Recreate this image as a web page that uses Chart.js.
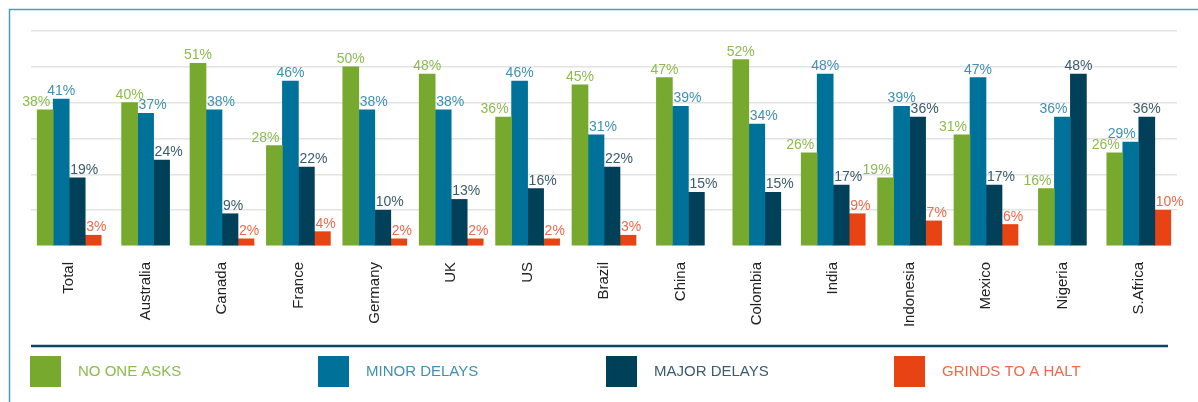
<!DOCTYPE html>
<html>
<head>
<meta charset="utf-8">
<script src="https://cdn.jsdelivr.net/npm/chart.js@4.4.1/dist/chart.umd.min.js"></script>
<style>
html, body { margin: 0; padding: 0; background: #fff; }
#wrap { width: 1198px; height: 402px; }
</style>
</head>
<body>
<div id="wrap"><canvas id="delayChart" width="1198" height="402"></canvas></div>
<script>
// data
const countries = ['Total', 'Australia', 'Canada', 'France', 'Germany', 'UK', 'US', 'Brazil', 'China', 'Colombia', 'India', 'Indonesia', 'Mexico', 'Nigeria', 'S.Africa'];
const noOneAsks    = [38, 40, 51, 28, 50, 48, 36, 45, 47, 52, 26, 19, 31, 16, 26];
const minorDelays  = [41, 37, 38, 46, 38, 38, 46, 31, 39, 34, 48, 39, 47, 36, 29];
const majorDelays  = [19, 24, 9, 22, 10, 13, 16, 22, 15, 15, 17, 36, 17, 48, 36];
const grindsToHalt = [3, null, 2, 4, 2, 2, 2, 3, null, null, 9, 7, 6, null, 10];
const seriesNames  = ['NO ONE ASKS', 'MINOR DELAYS', 'MAJOR DELAYS', 'GRINDS TO A HALT'];
const gridTicks    = [0, 10, 20, 30, 40, 50, 60];

const FONT = '"Liberation Sans", Arial, Helvetica, sans-serif';

// value labels above bars (no datalabels plugin offline)
// a label slides away from a taller neighbour bar so it doesn't sit on it
const valueLabels = {
    id: 'valueLabels',
    afterDatasetsDraw(chart) {
        const ctx = chart.ctx;
        const sets = chart.data.datasets;
        ctx.save();
        ctx.font = '14px ' + FONT;
        ctx.textAlign = 'center';
        ctx.textBaseline = 'alphabetic';
        sets.forEach((ds, i) => {
            const meta = chart.getDatasetMeta(i);
            meta.data.forEach((bar, j) => {
                const v = ds.data[j];
                if (v == null) return;
                const txt = v + '%';
                const w = ctx.measureText(txt).width;
                const bottom = bar.y - 4;
                // nearest non-null neighbours in the same group
                let left = null, right = null;
                for (let k = i - 1; k >= 0; k--) {
                    if (sets[k].data[j] != null) { left = chart.getDatasetMeta(k).data[j]; break; }
                }
                for (let k = i + 1; k < sets.length; k++) {
                    if (sets[k].data[j] != null) { right = chart.getDatasetMeta(k).data[j]; break; }
                }
                const leftTall = left && left.y < bottom;
                const rightTall = right && right.y < bottom;
                let shift = 0;
                const slide = (w - bar.width) / 2 + 1;
                if (leftTall && !rightTall) shift = slide;
                else if (rightTall && !leftTall) shift = -slide - 2;
                ctx.fillStyle = ds.labelColor;
                ctx.fillText(txt, bar.x + shift, bottom);
            });
        });
        ctx.restore();
    }
};

// frame, separator line and legend row
const frameAndLegend = {
    id: 'frameAndLegend',
    afterDraw(chart) {
        const ctx = chart.ctx;
        ctx.save();
        ctx.strokeStyle = '#4f9bb8';
        ctx.lineWidth = 1.5;
        ctx.beginPath();
        ctx.moveTo(9.5, chart.height);
        ctx.lineTo(9.5, 9.5);
        ctx.lineTo(chart.width, 9.5);
        ctx.stroke();

        ctx.strokeStyle = '#0b4560';
        ctx.lineWidth = 2.5;
        ctx.beginPath();
        ctx.moveTo(31, 346);
        ctx.lineTo(1168, 346);
        ctx.stroke();

        ctx.font = '15px ' + FONT;
        ctx.textBaseline = 'middle';
        ctx.textAlign = 'left';
        chart.data.datasets.forEach((ds, i) => {
            const x = 30 + i * 288;
            ctx.fillStyle = ds.backgroundColor;
            ctx.fillRect(x, 356, 31, 31);
            ctx.fillStyle = ds.labelColor;
            ctx.fillText(ds.label, x + 48, 372);
        });
        ctx.restore();
    }
};

const delayData = {
    labels: countries,
    datasets: [
        { label: seriesNames[0], data: noOneAsks,    backgroundColor: '#78a92f', labelColor: '#8dbb4e' },
        { label: seriesNames[1], data: minorDelays,  backgroundColor: '#00729a', labelColor: '#3f90b3' },
        { label: seriesNames[2], data: majorDelays,  backgroundColor: '#004059', labelColor: '#3b5b6e' },
        { label: seriesNames[3], data: grindsToHalt, backgroundColor: '#e84312', labelColor: '#f0694a' }
    ]
};

const delayConfig = {
    type: 'bar',
    data: delayData,
    options: {
        responsive: false,
        animation: false,
        skipNull: true,
        barThickness: 16,
        borderWidth: 0,
        layout: { padding: { left: 31, right: 21, top: 31, bottom: 0 } },
        scales: {
            x: {
                grid: { display: false, drawTicks: false },
                border: { display: false },
                afterFit: s => { s.height = 156; },
                ticks: {
                    minRotation: 90,
                    maxRotation: 90,
                    padding: 16,
                    color: '#222',
                    font: { family: FONT, size: 15 }
                }
            },
            y: {
                min: gridTicks[0],
                max: gridTicks[gridTicks.length - 1],
                afterFit: s => { s.width = 0; },
                border: { display: false },
                grid: {
                    drawTicks: false,
                    lineWidth: 1.5,
                    color: c => c.tick && c.tick.value === 0 ? 'rgba(0,0,0,0)' : '#e3e3e3'
                },
                ticks: { display: false, stepSize: gridTicks[1] - gridTicks[0] }
            }
        },
        plugins: {
            legend: { display: false },
            tooltip: { enabled: false }
        }
    },
    plugins: [valueLabels, frameAndLegend]
};

const delayElement = document.querySelector('#delayChart');
const delayChart = new Chart(delayElement, delayConfig);
</script>
</body>
</html>
